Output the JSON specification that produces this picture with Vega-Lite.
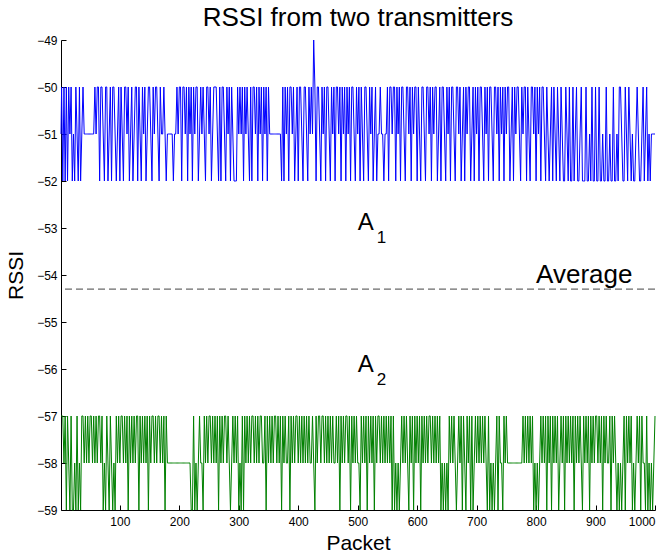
{
"$schema":"https://vega.github.io/schema/vega-lite/v6.json",
"width":594,"height":470,
"autosize":{"type":"none"},
"padding":{"left":61,"top":40,"right":15,"bottom":44},
"background":"white",
"config":{"view":{"stroke":null},"font":"Liberation Sans",
"axis":{"grid":false,"domainColor":"#000000","tickColor":"#000000","labelColor":"#000000","titleColor":"#000000","labelFont":"Liberation Sans","titleFont":"Liberation Sans","labelFontSize":12,"titleFontSize":21,"titleFontWeight":"normal","tickSize":-5,"domainWidth":1,"tickWidth":1}},
"title":{"text":"RSSI from two transmitters","fontSize":26,"fontWeight":"normal","font":"Liberation Sans","color":"#000000","frame":"group","anchor":"middle","baseline":"alphabetic","offset":13,"dy":31},
"datasets":{"rssi":[
{"x":1,"a":-51,"b":-57},
{"x":2,"a":-50,"b":-57},{"x":4,"a":-52,"b":-57},{"x":6,"a":-50,"b":-58},{"x":8,"a":-52,"b":-57},{"x":10,"a":-50,"b":-59},{"x":12,"a":-52,"b":-57},{"x":14,"a":-50,"b":-58},{"x":16,"a":-51,"b":-59},{"x":18,"a":-50,"b":-57},{"x":20,"a":-52,"b":-59},
{"x":22,"a":-51,"b":-59},{"x":24,"a":-52,"b":-58},{"x":26,"a":-50,"b":-59},{"x":28,"a":-51,"b":-57},{"x":30,"a":-52,"b":-59},{"x":32,"a":-50,"b":-58},{"x":34,"a":-52,"b":-59},{"x":36,"a":-51,"b":-57},{"x":38,"a":-50,"b":-57},{"x":40,"a":-51,"b":-58},
{"x":42,"a":-51,"b":-57},{"x":44,"a":-51,"b":-58},{"x":46,"a":-51,"b":-57},{"x":48,"a":-51,"b":-58},{"x":50,"a":-51,"b":-57},{"x":52,"a":-51,"b":-57},{"x":54,"a":-51,"b":-58},{"x":56,"a":-51,"b":-57},{"x":58,"a":-50,"b":-58},{"x":60,"a":-51,"b":-57},
{"x":62,"a":-50,"b":-58},{"x":64,"a":-50,"b":-57},{"x":66,"a":-52,"b":-57},{"x":68,"a":-50,"b":-58},{"x":70,"a":-50,"b":-57},{"x":72,"a":-51,"b":-59},{"x":74,"a":-52,"b":-58},{"x":76,"a":-50,"b":-59},{"x":78,"a":-50,"b":-57},{"x":80,"a":-52,"b":-58},
{"x":82,"a":-51,"b":-59},{"x":84,"a":-50,"b":-57},{"x":86,"a":-52,"b":-58},{"x":88,"a":-50,"b":-59},{"x":90,"a":-50,"b":-58},{"x":92,"a":-51,"b":-59},{"x":94,"a":-52,"b":-57},{"x":96,"a":-51,"b":-58},{"x":98,"a":-50,"b":-57},{"x":100,"a":-52,"b":-58},
{"x":102,"a":-50,"b":-57},{"x":104,"a":-51,"b":-57},{"x":106,"a":-52,"b":-58},{"x":108,"a":-50,"b":-57},{"x":110,"a":-50,"b":-58},{"x":112,"a":-51,"b":-57},{"x":114,"a":-50,"b":-59},{"x":116,"a":-52,"b":-57},{"x":118,"a":-51,"b":-58},{"x":120,"a":-50,"b":-57},
{"x":122,"a":-52,"b":-58},{"x":124,"a":-51,"b":-57},{"x":126,"a":-50,"b":-58},{"x":128,"a":-50,"b":-57},{"x":130,"a":-52,"b":-57},{"x":132,"a":-50,"b":-59},{"x":134,"a":-51,"b":-57},{"x":136,"a":-52,"b":-58},{"x":138,"a":-50,"b":-57},{"x":140,"a":-51,"b":-58},
{"x":142,"a":-50,"b":-57},{"x":144,"a":-52,"b":-58},{"x":146,"a":-51,"b":-57},{"x":148,"a":-50,"b":-59},{"x":150,"a":-50,"b":-57},{"x":152,"a":-51,"b":-58},{"x":154,"a":-52,"b":-57},{"x":156,"a":-50,"b":-57},{"x":158,"a":-51,"b":-58},{"x":160,"a":-50,"b":-57},
{"x":162,"a":-50,"b":-58},{"x":164,"a":-51,"b":-57},{"x":166,"a":-52,"b":-57},{"x":168,"a":-50,"b":-58},{"x":170,"a":-51,"b":-57},{"x":172,"a":-51,"b":-58},{"x":174,"a":-50,"b":-57},{"x":176,"a":-51,"b":-59},{"x":178,"a":-52,"b":-57},{"x":180,"a":-51,"b":-58},
{"x":182,"a":-51,"b":-58},{"x":184,"a":-51,"b":-58},{"x":186,"a":-51,"b":-58},{"x":188,"a":-51,"b":-58},{"x":190,"a":-52,"b":-58},{"x":192,"a":-51,"b":-58},{"x":194,"a":-51,"b":-58},{"x":196,"a":-50,"b":-58},{"x":198,"a":-51,"b":-58},{"x":200,"a":-50,"b":-58},
{"x":202,"a":-50,"b":-58},{"x":204,"a":-52,"b":-58},{"x":206,"a":-50,"b":-58},{"x":208,"a":-50,"b":-58},{"x":210,"a":-51,"b":-58},{"x":212,"a":-50,"b":-58},{"x":214,"a":-52,"b":-58},{"x":216,"a":-50,"b":-58},{"x":218,"a":-51,"b":-58},{"x":220,"a":-50,"b":-59},
{"x":222,"a":-52,"b":-59},{"x":224,"a":-50,"b":-57},{"x":226,"a":-51,"b":-59},{"x":228,"a":-50,"b":-58},{"x":230,"a":-50,"b":-59},{"x":232,"a":-52,"b":-58},{"x":234,"a":-51,"b":-57},{"x":236,"a":-50,"b":-58},{"x":238,"a":-51,"b":-58},{"x":240,"a":-50,"b":-59},
{"x":242,"a":-51,"b":-57},{"x":244,"a":-52,"b":-58},{"x":246,"a":-50,"b":-57},{"x":248,"a":-50,"b":-58},{"x":250,"a":-51,"b":-57},{"x":252,"a":-50,"b":-57},{"x":254,"a":-52,"b":-58},{"x":256,"a":-51,"b":-57},{"x":258,"a":-50,"b":-58},{"x":260,"a":-50,"b":-57},
{"x":262,"a":-50,"b":-58},{"x":264,"a":-51,"b":-57},{"x":266,"a":-52,"b":-59},{"x":268,"a":-50,"b":-57},{"x":270,"a":-52,"b":-58},{"x":272,"a":-50,"b":-57},{"x":274,"a":-50,"b":-58},{"x":276,"a":-51,"b":-57},{"x":278,"a":-52,"b":-57},{"x":280,"a":-50,"b":-58},
{"x":282,"a":-51,"b":-57},{"x":284,"a":-50,"b":-58},{"x":286,"a":-52,"b":-59},{"x":288,"a":-50,"b":-58},{"x":290,"a":-51,"b":-57},{"x":292,"a":-52,"b":-58},{"x":294,"a":-52,"b":-57},{"x":296,"a":-52,"b":-58},{"x":298,"a":-50,"b":-57},{"x":300,"a":-51,"b":-59},
{"x":302,"a":-50,"b":-58},{"x":304,"a":-51,"b":-59},{"x":306,"a":-50,"b":-57},{"x":308,"a":-52,"b":-59},{"x":310,"a":-50,"b":-57},{"x":312,"a":-51,"b":-58},{"x":314,"a":-50,"b":-57},{"x":316,"a":-51,"b":-58},{"x":318,"a":-52,"b":-57},{"x":320,"a":-50,"b":-58},
{"x":322,"a":-52,"b":-57},{"x":324,"a":-50,"b":-57},{"x":326,"a":-50,"b":-58},{"x":328,"a":-51,"b":-57},{"x":330,"a":-50,"b":-58},{"x":332,"a":-52,"b":-57},{"x":334,"a":-50,"b":-58},{"x":336,"a":-51,"b":-57},{"x":338,"a":-50,"b":-57},{"x":340,"a":-52,"b":-58},
{"x":342,"a":-50,"b":-58},{"x":344,"a":-51,"b":-57},{"x":346,"a":-50,"b":-59},{"x":348,"a":-52,"b":-57},{"x":350,"a":-50,"b":-58},{"x":352,"a":-51,"b":-57},{"x":354,"a":-51,"b":-58},{"x":356,"a":-51,"b":-57},{"x":358,"a":-51,"b":-58},{"x":360,"a":-51,"b":-57},
{"x":362,"a":-51,"b":-57},{"x":364,"a":-51,"b":-58},{"x":366,"a":-51,"b":-57},{"x":368,"a":-51,"b":-58},{"x":370,"a":-51,"b":-57},{"x":372,"a":-52,"b":-59},{"x":374,"a":-50,"b":-57},{"x":376,"a":-52,"b":-58},{"x":378,"a":-50,"b":-57},{"x":380,"a":-51,"b":-58},
{"x":382,"a":-50,"b":-58},{"x":384,"a":-52,"b":-57},{"x":386,"a":-50,"b":-59},{"x":388,"a":-50,"b":-57},{"x":390,"a":-51,"b":-58},{"x":392,"a":-50,"b":-57},{"x":394,"a":-52,"b":-58},{"x":396,"a":-51,"b":-57},{"x":398,"a":-50,"b":-57},{"x":400,"a":-52,"b":-58},
{"x":402,"a":-50,"b":-57},{"x":404,"a":-50,"b":-58},{"x":406,"a":-51,"b":-57},{"x":408,"a":-52,"b":-58},{"x":410,"a":-50,"b":-57},{"x":412,"a":-50,"b":-58},{"x":414,"a":-51,"b":-57},{"x":416,"a":-52,"b":-58},{"x":418,"a":-50,"b":-57},{"x":420,"a":-51,"b":-58},
{"x":422,"a":-50,"b":-58},{"x":424,"a":-51,"b":-57},{"x":426,"a":-49,"b":-58},{"x":428,"a":-50,"b":-59},{"x":430,"a":-52,"b":-57},{"x":432,"a":-50,"b":-58},{"x":434,"a":-50,"b":-57},{"x":436,"a":-51,"b":-57},{"x":438,"a":-52,"b":-58},{"x":440,"a":-50,"b":-57},
{"x":442,"a":-51,"b":-57},{"x":444,"a":-50,"b":-58},{"x":446,"a":-52,"b":-57},{"x":448,"a":-50,"b":-58},{"x":450,"a":-50,"b":-57},{"x":452,"a":-51,"b":-58},{"x":454,"a":-52,"b":-57},{"x":456,"a":-50,"b":-58},{"x":458,"a":-51,"b":-57},{"x":460,"a":-50,"b":-58},
{"x":462,"a":-52,"b":-58},{"x":464,"a":-50,"b":-57},{"x":466,"a":-50,"b":-58},{"x":468,"a":-51,"b":-57},{"x":470,"a":-50,"b":-59},{"x":472,"a":-52,"b":-57},{"x":474,"a":-50,"b":-58},{"x":476,"a":-51,"b":-57},{"x":478,"a":-50,"b":-58},{"x":480,"a":-52,"b":-57},
{"x":482,"a":-50,"b":-57},{"x":484,"a":-51,"b":-58},{"x":486,"a":-50,"b":-57},{"x":488,"a":-52,"b":-59},{"x":490,"a":-50,"b":-57},{"x":492,"a":-50,"b":-58},{"x":494,"a":-51,"b":-57},{"x":496,"a":-52,"b":-58},{"x":498,"a":-50,"b":-57},{"x":500,"a":-51,"b":-58},
{"x":502,"a":-50,"b":-58},{"x":504,"a":-52,"b":-59},{"x":506,"a":-50,"b":-57},{"x":508,"a":-51,"b":-58},{"x":510,"a":-52,"b":-57},{"x":512,"a":-50,"b":-58},{"x":514,"a":-50,"b":-57},{"x":516,"a":-51,"b":-59},{"x":518,"a":-52,"b":-57},{"x":520,"a":-50,"b":-58},
{"x":522,"a":-51,"b":-57},{"x":524,"a":-50,"b":-58},{"x":526,"a":-52,"b":-57},{"x":528,"a":-51,"b":-59},{"x":530,"a":-50,"b":-57},{"x":532,"a":-52,"b":-58},{"x":534,"a":-51,"b":-57},{"x":536,"a":-51,"b":-57},{"x":538,"a":-50,"b":-58},{"x":540,"a":-51,"b":-57},
{"x":542,"a":-51,"b":-58},{"x":544,"a":-52,"b":-57},{"x":546,"a":-51,"b":-58},{"x":548,"a":-51,"b":-57},{"x":550,"a":-50,"b":-58},{"x":552,"a":-52,"b":-57},{"x":554,"a":-50,"b":-58},{"x":556,"a":-50,"b":-57},{"x":558,"a":-51,"b":-59},{"x":560,"a":-50,"b":-57},
{"x":562,"a":-50,"b":-59},{"x":564,"a":-52,"b":-58},{"x":566,"a":-50,"b":-59},{"x":568,"a":-51,"b":-58},{"x":570,"a":-50,"b":-59},{"x":572,"a":-52,"b":-58},{"x":574,"a":-50,"b":-57},{"x":576,"a":-50,"b":-58},{"x":578,"a":-51,"b":-57},{"x":580,"a":-52,"b":-58},
{"x":582,"a":-50,"b":-57},{"x":584,"a":-50,"b":-58},{"x":586,"a":-51,"b":-59},{"x":588,"a":-50,"b":-57},{"x":590,"a":-52,"b":-58},{"x":592,"a":-50,"b":-57},{"x":594,"a":-51,"b":-59},{"x":596,"a":-50,"b":-57},{"x":598,"a":-50,"b":-58},{"x":600,"a":-52,"b":-57},
{"x":602,"a":-50,"b":-58},{"x":604,"a":-51,"b":-57},{"x":606,"a":-52,"b":-59},{"x":608,"a":-50,"b":-57},{"x":610,"a":-50,"b":-58},{"x":612,"a":-51,"b":-57},{"x":614,"a":-52,"b":-58},{"x":616,"a":-50,"b":-57},{"x":618,"a":-50,"b":-58},{"x":620,"a":-51,"b":-57},
{"x":622,"a":-50,"b":-57},{"x":624,"a":-52,"b":-58},{"x":626,"a":-50,"b":-57},{"x":628,"a":-51,"b":-58},{"x":630,"a":-50,"b":-57},{"x":632,"a":-50,"b":-58},{"x":634,"a":-52,"b":-57},{"x":636,"a":-51,"b":-58},{"x":638,"a":-50,"b":-57},{"x":640,"a":-52,"b":-59},
{"x":642,"a":-50,"b":-58},{"x":644,"a":-50,"b":-59},{"x":646,"a":-51,"b":-58},{"x":648,"a":-52,"b":-59},{"x":650,"a":-50,"b":-58},{"x":652,"a":-51,"b":-59},{"x":654,"a":-50,"b":-57},{"x":656,"a":-52,"b":-58},{"x":658,"a":-50,"b":-57},{"x":660,"a":-50,"b":-58},
{"x":662,"a":-51,"b":-57},{"x":664,"a":-52,"b":-58},{"x":666,"a":-50,"b":-59},{"x":668,"a":-50,"b":-58},{"x":670,"a":-51,"b":-57},{"x":672,"a":-50,"b":-58},{"x":674,"a":-52,"b":-57},{"x":676,"a":-51,"b":-59},{"x":678,"a":-50,"b":-57},{"x":680,"a":-52,"b":-58},
{"x":682,"a":-50,"b":-59},{"x":684,"a":-51,"b":-57},{"x":686,"a":-50,"b":-58},{"x":688,"a":-50,"b":-57},{"x":690,"a":-52,"b":-59},{"x":692,"a":-51,"b":-57},{"x":694,"a":-50,"b":-59},{"x":696,"a":-52,"b":-58},{"x":698,"a":-50,"b":-57},{"x":700,"a":-51,"b":-58},
{"x":702,"a":-50,"b":-57},{"x":704,"a":-52,"b":-58},{"x":706,"a":-50,"b":-57},{"x":708,"a":-50,"b":-58},{"x":710,"a":-51,"b":-57},{"x":712,"a":-52,"b":-58},{"x":714,"a":-50,"b":-57},{"x":716,"a":-51,"b":-58},{"x":718,"a":-50,"b":-59},{"x":720,"a":-52,"b":-57},
{"x":722,"a":-50,"b":-59},{"x":724,"a":-50,"b":-58},{"x":726,"a":-51,"b":-59},{"x":728,"a":-52,"b":-58},{"x":730,"a":-50,"b":-59},{"x":732,"a":-50,"b":-58},{"x":734,"a":-51,"b":-57},{"x":736,"a":-50,"b":-59},{"x":738,"a":-52,"b":-57},{"x":740,"a":-50,"b":-58},
{"x":742,"a":-51,"b":-58},{"x":744,"a":-50,"b":-59},{"x":746,"a":-52,"b":-57},{"x":748,"a":-50,"b":-58},{"x":750,"a":-51,"b":-57},{"x":752,"a":-50,"b":-58},{"x":754,"a":-50,"b":-58},{"x":756,"a":-52,"b":-58},{"x":758,"a":-51,"b":-58},{"x":760,"a":-50,"b":-58},
{"x":762,"a":-52,"b":-58},{"x":764,"a":-50,"b":-58},{"x":766,"a":-51,"b":-58},{"x":768,"a":-50,"b":-58},{"x":770,"a":-50,"b":-58},{"x":772,"a":-51,"b":-58},{"x":774,"a":-52,"b":-58},{"x":776,"a":-50,"b":-58},{"x":778,"a":-51,"b":-57},{"x":780,"a":-50,"b":-58},
{"x":782,"a":-50,"b":-57},{"x":784,"a":-52,"b":-58},{"x":786,"a":-50,"b":-57},{"x":788,"a":-51,"b":-58},{"x":790,"a":-52,"b":-57},{"x":792,"a":-50,"b":-58},{"x":794,"a":-50,"b":-57},{"x":796,"a":-51,"b":-59},{"x":798,"a":-50,"b":-58},{"x":800,"a":-52,"b":-59},
{"x":802,"a":-50,"b":-58},{"x":804,"a":-51,"b":-59},{"x":806,"a":-50,"b":-58},{"x":808,"a":-52,"b":-57},{"x":810,"a":-50,"b":-58},{"x":812,"a":-50,"b":-57},{"x":814,"a":-51,"b":-58},{"x":816,"a":-52,"b":-57},{"x":818,"a":-50,"b":-59},{"x":820,"a":-51,"b":-57},
{"x":822,"a":-52,"b":-58},{"x":824,"a":-51,"b":-57},{"x":826,"a":-50,"b":-59},{"x":828,"a":-52,"b":-57},{"x":830,"a":-50,"b":-58},{"x":832,"a":-51,"b":-57},{"x":834,"a":-52,"b":-58},{"x":836,"a":-50,"b":-57},{"x":838,"a":-51,"b":-59},{"x":840,"a":-52,"b":-58},
{"x":842,"a":-50,"b":-57},{"x":844,"a":-51,"b":-58},{"x":846,"a":-52,"b":-57},{"x":848,"a":-52,"b":-59},{"x":850,"a":-50,"b":-57},{"x":852,"a":-51,"b":-58},{"x":854,"a":-52,"b":-57},{"x":856,"a":-50,"b":-58},{"x":858,"a":-52,"b":-57},{"x":860,"a":-52,"b":-58},
{"x":862,"a":-50,"b":-57},{"x":864,"a":-52,"b":-59},{"x":866,"a":-51,"b":-57},{"x":868,"a":-50,"b":-58},{"x":870,"a":-52,"b":-57},{"x":872,"a":-52,"b":-58},{"x":874,"a":-51,"b":-57},{"x":876,"a":-50,"b":-58},{"x":878,"a":-52,"b":-59},{"x":880,"a":-52,"b":-57},
{"x":882,"a":-52,"b":-58},{"x":884,"a":-50,"b":-57},{"x":886,"a":-52,"b":-58},{"x":888,"a":-52,"b":-57},{"x":890,"a":-51,"b":-59},{"x":892,"a":-52,"b":-57},{"x":894,"a":-50,"b":-58},{"x":896,"a":-52,"b":-57},{"x":898,"a":-52,"b":-58},{"x":900,"a":-50,"b":-57},
{"x":902,"a":-52,"b":-57},{"x":904,"a":-52,"b":-58},{"x":906,"a":-50,"b":-57},{"x":908,"a":-52,"b":-58},{"x":910,"a":-52,"b":-57},{"x":912,"a":-51,"b":-59},{"x":914,"a":-52,"b":-57},{"x":916,"a":-52,"b":-58},{"x":918,"a":-50,"b":-57},{"x":920,"a":-52,"b":-58},
{"x":922,"a":-52,"b":-58},{"x":924,"a":-51,"b":-57},{"x":926,"a":-52,"b":-59},{"x":928,"a":-52,"b":-57},{"x":930,"a":-50,"b":-58},{"x":932,"a":-52,"b":-57},{"x":934,"a":-52,"b":-58},{"x":936,"a":-51,"b":-59},{"x":938,"a":-52,"b":-58},{"x":940,"a":-50,"b":-59},
{"x":942,"a":-50,"b":-58},{"x":944,"a":-51,"b":-59},{"x":946,"a":-52,"b":-58},{"x":948,"a":-52,"b":-57},{"x":950,"a":-50,"b":-59},{"x":952,"a":-51,"b":-57},{"x":954,"a":-52,"b":-58},{"x":956,"a":-50,"b":-57},{"x":958,"a":-51,"b":-58},{"x":960,"a":-52,"b":-57},
{"x":962,"a":-51,"b":-59},{"x":964,"a":-52,"b":-58},{"x":966,"a":-52,"b":-59},{"x":968,"a":-51,"b":-58},{"x":970,"a":-50,"b":-57},{"x":972,"a":-51,"b":-58},{"x":974,"a":-52,"b":-57},{"x":976,"a":-52,"b":-59},{"x":978,"a":-51,"b":-57},{"x":980,"a":-50,"b":-58},
{"x":982,"a":-52,"b":-58},{"x":984,"a":-51,"b":-59},{"x":986,"a":-50,"b":-57},{"x":988,"a":-52,"b":-59},{"x":990,"a":-51,"b":-58},{"x":992,"a":-52,"b":-59},{"x":994,"a":-51,"b":-58},{"x":996,"a":-51,"b":-59},{"x":998,"a":-51,"b":-58},{"x":1000,"a":-51,"b":-57}
]},
"layer":[
{"data":{"name":"rssi"},"mark":{"type":"line","color":"#0000ff","strokeWidth":1},
 "encoding":{
  "x":{"field":"x","type":"quantitative","title":"Packet","scale":{"domain":[1,1000],"nice":false,"zero":false},"axis":{"values":[100,200,300,400,500,600,700,800,900,1000],"format":"d","labelPadding":11,"titlePadding":5}},
  "y":{"field":"a","type":"quantitative","title":"RSSI","scale":{"domain":[-59,-49],"nice":false,"zero":false},"axis":{"values":[-59,-58,-57,-56,-55,-54,-53,-52,-51,-50,-49],"format":"d","labelPadding":9,"titlePadding":10}}}},
{"data":{"name":"rssi"},"mark":{"type":"line","color":"#008000","strokeWidth":1},
 "encoding":{"x":{"field":"x","type":"quantitative","title":"Packet"},"y":{"field":"b","type":"quantitative","title":"RSSI"}}},
{"data":{"values":[{"avg":-54.3}]},"mark":{"type":"rule","color":"#444444","strokeDash":[7,4],"strokeWidth":1},
 "encoding":{"y":{"field":"avg","type":"quantitative","title":"RSSI"}}},
{"data":{"values":[{"px":500,"py":-53.04,"t":"A"},{"px":500,"py":-56.06,"t":"A"}]},
 "mark":{"type":"text","align":"left","baseline":"alphabetic","fontSize":24,"font":"Liberation Sans","color":"#000000"},
 "encoding":{"x":{"field":"px","type":"quantitative","title":"Packet"},"y":{"field":"py","type":"quantitative","title":"RSSI"},"text":{"field":"t"}}},
{"data":{"values":[{"px":800,"py":-54.3,"t":"Average"}]},
 "mark":{"type":"text","align":"left","baseline":"alphabetic","fontSize":26,"font":"Liberation Sans","color":"#000000","dy":-6},
 "encoding":{"x":{"field":"px","type":"quantitative","title":"Packet"},"y":{"field":"py","type":"quantitative","title":"RSSI"},"text":{"field":"t"}}},
{"data":{"values":[{"px":500,"py":-53.04,"t":"1"},{"px":500,"py":-56.06,"t":"2"}]},
 "mark":{"type":"text","align":"left","baseline":"alphabetic","fontSize":17,"font":"Liberation Sans","color":"#000000","dx":19,"dy":13},
 "encoding":{"x":{"field":"px","type":"quantitative","title":"Packet"},"y":{"field":"py","type":"quantitative","title":"RSSI"},"text":{"field":"t"}}}
]
}
